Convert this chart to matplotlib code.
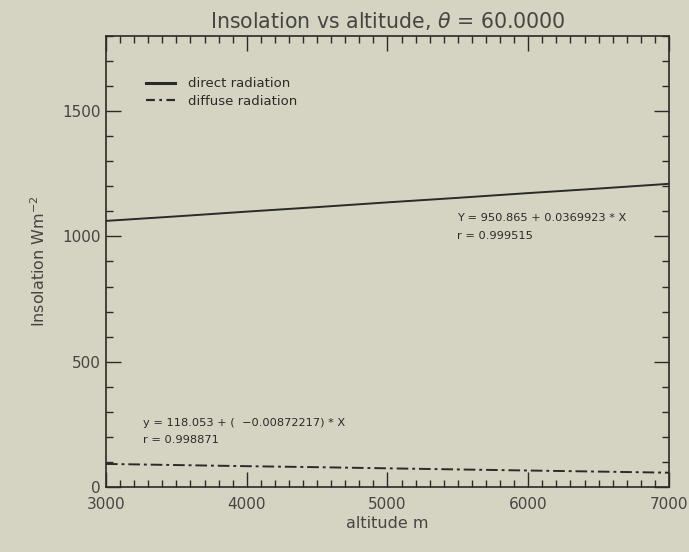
import matplotlib
matplotlib.use("Agg")
import matplotlib.pyplot as plt
from matplotlib.ticker import MultipleLocator

altitude = [3000, 3500, 4000, 4500, 5000, 5500, 6000, 6500, 7000]
direct = [1062, 1080, 1099, 1117, 1136, 1154, 1173, 1191, 1210]
diffuse = [92, 87.5, 83, 79, 74.4, 70, 65.7, 61.4, 57]

title = r"Insolation vs altitude, $\theta$ = 60.0000"
xlabel = "altitude m"
ylabel = r"Insolation Wm$^{-2}$"
fit_direct = ["Y = 950.865 + 0.0369923 * X", "r = 0.999515"]
fit_diffuse = ["y = 118.053 + (  \u22120.00872217) * X", "r = 0.998871"]

bg = "#d5d4c3"
ink = "#2a2a28"
txt = "#454542"
plt.rcParams['font.family'] = ['DejaVu Sans']

fig = plt.figure(figsize=(6.89, 5.52), dpi=100, facecolor=bg)
ax = fig.add_axes([0.1538, 0.1178, 0.971 - 0.1538, 0.9348 - 0.1178])
ax.set_facecolor(bg)

ax.plot(altitude, direct, color=ink, lw=1.4, label="direct radiation")
ax.plot(altitude, diffuse, color=ink, lw=1.4, linestyle=(0, (6, 2, 1.5, 2)), label="diffuse radiation")

ax.set_xlim(3000, 7000)
ax.set_ylim(0, 1800)
ax.xaxis.set_major_locator(MultipleLocator(1000))
ax.xaxis.set_minor_locator(MultipleLocator(100))
ax.yaxis.set_major_locator(MultipleLocator(500))
ax.yaxis.set_minor_locator(MultipleLocator(100))
ax.tick_params(which='both', direction='in', top=True, right=True, color=ink, labelcolor=txt, labelsize=11, width=1)
ax.tick_params(which='major', length=11, pad=4)
ax.tick_params(which='minor', length=5)
ax.tick_params(axis='x', pad=7)
for s in ax.spines.values():
    s.set_color(ink)
    s.set_linewidth(1.2)

ax.set_title(title, fontsize=14.8, color=txt, pad=6)
ax.set_xlabel(xlabel, fontsize=11.5, color=txt, labelpad=3)
ax.set_ylabel(ylabel, fontsize=11.5, color=txt, labelpad=10)

leg = ax.legend(loc='upper left', bbox_to_anchor=(0.05, 0.935), frameon=False, fontsize=9.5,
                handlelength=2.2, handletextpad=1.0, labelspacing=0.35, labelcolor=ink)
leg_lines = leg.get_lines()
leg_lines[0].set_linewidth(2.2)
leg_lines[1].set_linewidth(1.6)
leg_lines[1].set_linestyle((0, (4, 2, 1.2, 2)))

ax.text(5494, 1072, fit_direct[0], fontsize=8.2, color=ink, va='center')
ax.text(5494, 1000, fit_direct[1], fontsize=8.2, color=ink, va='center')
ax.text(3260, 256, fit_diffuse[0], fontsize=8.2, color=ink, va='center')
ax.text(3260, 188, fit_diffuse[1], fontsize=8.2, color=ink, va='center')

fig.savefig("out.png", dpi=100, facecolor=bg)
